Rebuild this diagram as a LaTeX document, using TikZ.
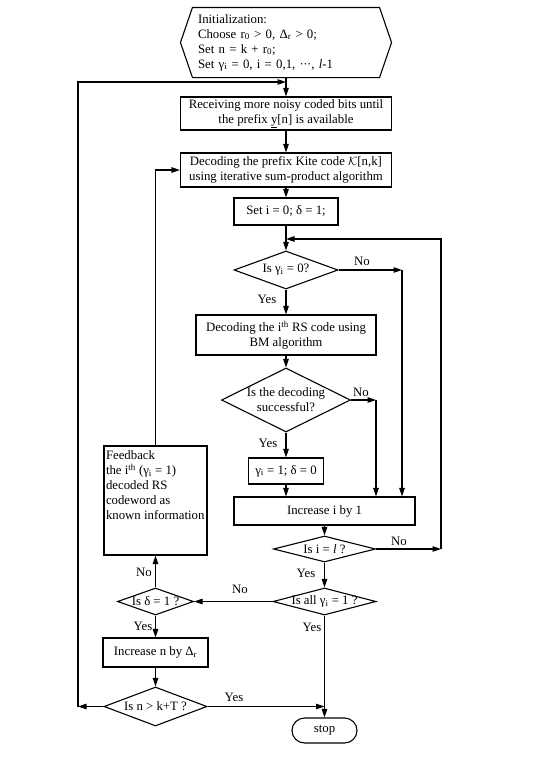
\documentclass[tikz,border=0pt]{standalone}
\usepackage{fontspec}
\setmainfont{Liberation Serif}
\usetikzlibrary{shapes.geometric,arrows.meta,calc}
\begin{document}
\begin{tikzpicture}[x=1pt,y=-1pt, line width=1.1pt,
  font=\fontsize{12.8}{15}\selectfont,
  box/.style={draw, rectangle, inner sep=0pt, align=center},
  dia/.style={draw, diamond, inner sep=0pt},
  arr/.style={-{Triangle[length=8.5pt,width=5.5pt]}},
  lbl/.style={inner sep=0pt}]
\useasboundingbox (0,0) rectangle (545,771);

% nodes
\node[inner sep=0pt, minimum width=210, minimum height=69, text width=176, align=left] (init) at (286,42.5)
  {Initialization:\\Choose r\textsubscript{0} > 0, Δ\textsubscript{r} > 0;\\Set n = k + r\textsubscript{0};\\Set γ\textsubscript{i} = 0, i = 0,1, ·\kern-0.5pt·\kern-0.5pt·, \textit{l}-1};
\draw ($(init.north west)+(12,0)$) -- ($(init.north east)+(-12,0)$) -- (init.east)
  -- ($(init.south east)+(-12,0)$) -- ($(init.south west)+(12,0)$) -- (init.west) -- cycle;

\node[box, minimum width=211, minimum height=33] (recv) at (286,113.5)
  {Receiving more noisy coded bits until\\the prefix \underline{y}[n] is available};
\node[box, minimum width=211, minimum height=34] (dec) at (286,170)
  {Decoding the prefix Kite code $\mathcal{K}$[n,k]\\using iterative sum-product algorithm};
\node[box, minimum width=104, minimum height=27] (seti) at (286,211.5) {Set i = 0; δ = 1;};
\node[dia, minimum width=104, minimum height=38, label={center:Is γ\textsubscript{i} = 0?}] (d1) at (286,270) {};
\node[box, minimum width=180, minimum height=40] (rs) at (286,335)
  {Decoding the i\textsuperscript{th} RS code using\\BM algorithm};
\node[dia, minimum width=129, minimum height=64, label={[align=center]center:Is the decoding\\successful?}] (d2) at (286,400) {};
\node[box, minimum width=75, minimum height=26] (gs) at (286,471) {γ\textsubscript{i} = 1; δ = 0};
\node[box, minimum width=181, minimum height=28] (inc) at (324.5,511) {Increase i by 1};
\node[dia, minimum width=102, minimum height=26, label={center:Is i = \textit{l} ?}] (d3) at (324.5,549) {};
\node[dia, minimum width=103, minimum height=27, label={center:Is all γ\textsubscript{i} = 1 ?}] (d4) at (324.5,601.5) {};
\node[dia, minimum width=76, minimum height=27, label={center:Is δ = 1 ?}] (d5) at (155.5,601.5) {};
\node[box, minimum width=103, minimum height=109] (fb) at (155.5,500.5) {};
\node[anchor=north west, align=left, inner sep=0pt] (fbt) at ($(fb.north west)+(2,5)$)
  {Feedback\\the i\textsuperscript{th} (γ\textsubscript{i} = 1)\\decoded RS\\codeword as\\known information};
\node[box, minimum width=105, minimum height=29] (incn) at (155.5,652.5) {Increase n by Δ\textsubscript{r}};
\node[dia, minimum width=103, minimum height=39, label={center:Is n > k+T ?}] (d6) at (155.5,706.5) {};
\node[draw, rounded corners=12.5pt, minimum width=65, minimum height=25, inner sep=0pt] (stop) at (324.5,730.5) {stop};

% helper coordinates
\coordinate (m1) at (286,82);
\coordinate (c1) at (78,706.5);
\coordinate (j1) at (286,239);
\coordinate (c2) at (402,270);
\coordinate (c3) at (376,400);
\coordinate (c4) at (441,549);
\coordinate (c5) at (324.5,706.5);

% connectors
\draw[arr] (init.south) -- (recv.north);
\draw[arr] (d6.west) -- (c1);
\draw[arr] (c1) |- (m1);
\draw[arr] (recv) -- (dec);
\draw[arr] (dec) -- (seti);
\draw[arr] (seti) -- (d1);
\draw[arr] (d1) -- (rs);
\draw[arr] (d1.east) -- (c2);
\draw[arr] (c2) -- (c2 |- inc.north);
\draw[arr] (rs) -- (d2);
\draw[arr] (d2.east) -- (c3);
\draw[arr] (c3) -- (c3 |- inc.north);
\draw[arr] (d2) -- (gs);
\draw[arr] (gs.south) -- (gs.south |- inc.north);
\draw[arr] (inc) -- (d3);
\draw[arr] (d3.east) -- (c4);
\draw[arr] (c4) |- (j1);
\draw[arr] (d3) -- (d4);
\draw[arr] (d4.west) -- (d5.east);
\draw[arr] (d4) -- (stop);
\draw[arr] (d5) -- (fb);
\draw[arr] (d5) -- (incn);
\draw[arr] (incn) -- (d6);
\draw[arr] (d6.east) -- (c5);
\draw[arr] (fb.north) |- (dec.west);

% labels
\node[lbl] (l1) at (362,261) {No};
\node[lbl] (l2) at (267,299) {Yes};
\node[lbl] (l3) at (361,392) {No};
\node[lbl] (l4) at (268,443) {Yes};
\node[lbl] (l5) at (399,541) {No};
\node[lbl] (l6) at (306,573) {Yes};
\node[lbl] (l7) at (240,589) {No};
\node[lbl] (l8) at (312,627) {Yes};
\node[lbl] (l9) at (144,572) {No};
\node[lbl] (l10) at (143,626) {Yes};
\node[lbl] (l11) at (234,697) {Yes};
\end{tikzpicture}
\end{document}
